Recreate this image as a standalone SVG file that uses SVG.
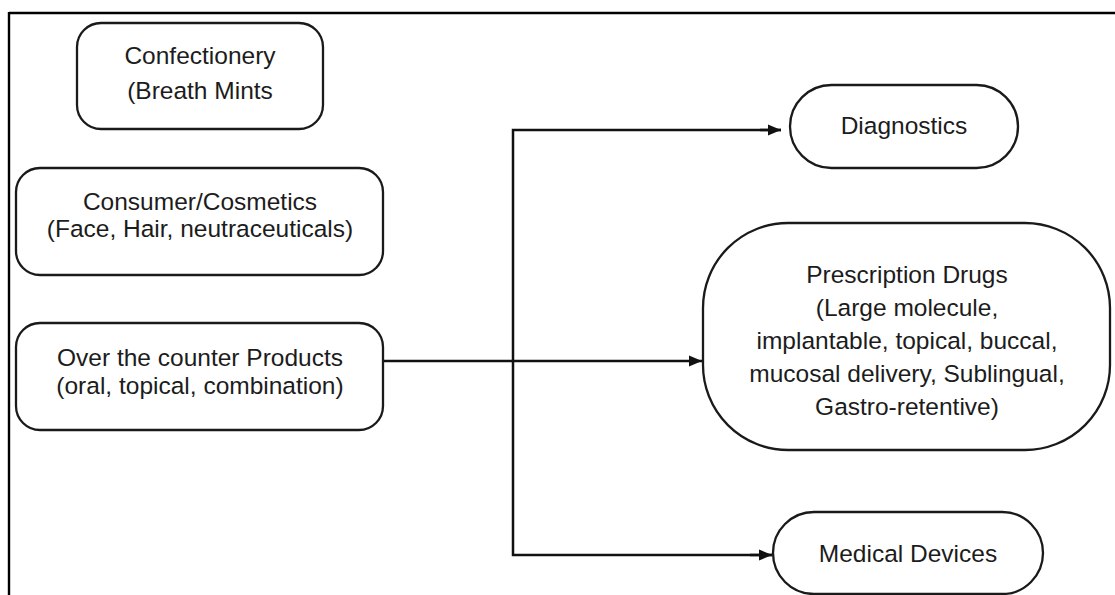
<svg xmlns="http://www.w3.org/2000/svg" width="1115" height="595" viewBox="0 0 1115 595">
<style>
.box{fill:#fff;stroke:#1a1a1a;stroke-width:2.3}
.t{font-family:"Liberation Sans",Arial,sans-serif;font-size:24.5px;fill:#1c1c1c;text-anchor:middle}
.c{fill:none;stroke:#111;stroke-width:2.5}
</style>
<defs>
<marker id="ah" markerWidth="14" markerHeight="12" refX="13" refY="6" orient="auto" markerUnits="userSpaceOnUse">
<path d="M0,0.5 L13,6 L0,11.5 Z" fill="#111"/>
</marker>
</defs>
<rect width="1115" height="595" fill="#fff"/>
<g id="frame">
<line x1="9" y1="13" x2="1115" y2="13" stroke="#000" stroke-width="2.4"/>
<line x1="9" y1="12" x2="9" y2="595" stroke="#000" stroke-width="2.4"/>
</g>
<g id="connectors">
<line class="c" x1="383" y1="361" x2="702" y2="361" marker-end="url(#ah)"/>
<polyline class="c" points="781,130 513,130 513,555 772,555"/>
<line class="c" x1="760" y1="130" x2="781" y2="130" marker-end="url(#ah)"/>
<line class="c" x1="750" y1="555" x2="772" y2="555" marker-end="url(#ah)"/>
</g>
<g id="confectionery">
<rect class="box" x="77" y="23" width="246" height="106" rx="24" ry="24"/>
<text class="t" x="200" y="64">Confectionery</text>
<text class="t" x="200" y="99">(Breath Mints</text>
</g>
<g id="consumer">
<rect class="box" x="16" y="168" width="367" height="107" rx="24" ry="24"/>
<text class="t" x="200" y="210">Consumer/Cosmetics</text>
<text class="t" x="200" y="237">(Face, Hair, neutraceuticals)</text>
</g>
<g id="otc">
<rect class="box" x="16" y="323" width="367" height="107" rx="24" ry="24"/>
<text class="t" x="200" y="366">Over the counter Products</text>
<text class="t" x="200" y="394">(oral, topical, combination)</text>
</g>
<g id="diagnostics">
<rect class="box" x="790" y="85" width="228" height="83" rx="41.5" ry="41.5"/>
<text class="t" x="904" y="134">Diagnostics</text>
</g>
<g id="prescription">
<rect class="box" x="703" y="223" width="407" height="227" rx="85" ry="85"/>
<text class="t" x="907" y="283">Prescription Drugs</text>
<text class="t" x="907" y="316">(Large molecule,</text>
<text class="t" x="907" y="349">implantable, topical, buccal,</text>
<text class="t" x="907" y="382">mucosal delivery, Sublingual,</text>
<text class="t" x="907" y="415">Gastro-retentive)</text>
</g>
<g id="medical">
<rect class="box" x="773" y="512" width="270" height="82" rx="41" ry="41"/>
<text class="t" x="908" y="562">Medical Devices</text>
</g>
</svg>
